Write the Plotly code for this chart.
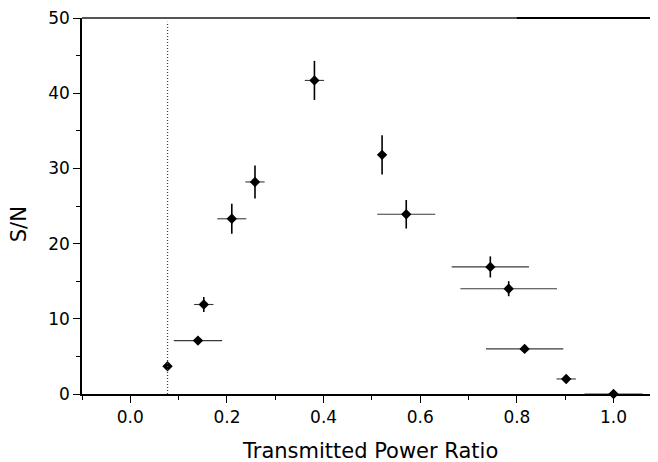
import plotly.graph_objects as go

# Values
power_ratio = [0.077, 0.14, 0.152, 0.21, 0.258, 0.381, 0.521, 0.571, 0.745, 0.783, 0.816, 0.902, 1.0]
sn_ratio = [3.7, 7.1, 11.9, 23.3, 28.2, 41.7, 31.8, 23.9, 16.9, 14.0, 6.0, 2.0, 0.0]
ratio_err = [0.0, 0.05, 0.02, 0.03, 0.02, 0.02, 0.0, 0.06, 0.08, 0.10, 0.08, 0.02, 0.06]
sn_err = [0.0, 0.0, 1.0, 2.0, 2.2, 2.6, 2.6, 1.9, 1.4, 1.0, 0.3, 0.4, 0.0]
cutoff_ratio = 0.077

X_RANGE = [-0.1, 1.092]
FONT = "DejaVu Sans, Arial, sans-serif"

fig = go.Figure()

fig.add_trace(go.Scatter(
    x=power_ratio,
    y=sn_ratio,
    mode="markers",
    marker=dict(symbol="diamond", size=8, color="black"),
    error_x=dict(type="data", array=ratio_err, visible=True,
                 color="#3a3a3a", thickness=1.1, width=0),
    error_y=dict(type="data", array=sn_err, visible=True,
                 color="black", thickness=1.6, width=0),
    cliponaxis=False,
    showlegend=False,
))

# dotted vertical marker line
fig.add_shape(type="line", x0=cutoff_ratio, x1=cutoff_ratio, y0=0, y1=49.5,
              xref="x", yref="y", line=dict(color="#444444", width=1.3, dash="1px,2px"))
# top frame line (grey, darker on the right)
dark_from = (0.8 - X_RANGE[0]) / (X_RANGE[1] - X_RANGE[0])
fig.add_shape(type="line", x0=0, x1=1, y0=1, y1=1, xref="paper", yref="paper",
              line=dict(color="#555555", width=2))
fig.add_shape(type="line", x0=dark_from, x1=1, y0=1, y1=1, xref="paper", yref="paper",
              line=dict(color="black", width=2))

fig.update_xaxes(
    range=X_RANGE,
    tickmode="linear", tick0=0, dtick=0.2, tickformat=".1f",
    ticks="outside", ticklen=7, tickwidth=1.2, tickcolor="black",
    minor=dict(tick0=0.1, dtick=0.2, ticks="outside", ticklen=4, tickcolor="black", showgrid=False),
    showline=True, linecolor="black", linewidth=1.5,
    showgrid=False, zeroline=False, ticklabeloverflow="allow",
    tickfont=dict(family=FONT, size=17, color="black"),
)
fig.update_yaxes(
    range=[0, 50],
    tickmode="linear", tick0=0, dtick=10,
    ticks="outside", ticklen=7, tickwidth=1.2, tickcolor="black",
    minor=dict(tick0=5, dtick=10, ticks="outside", ticklen=4, tickcolor="black", showgrid=False),
    showline=True, linecolor="black", linewidth=1.5,
    showgrid=False, zeroline=False, ticklabeloverflow="allow",
    tickfont=dict(family=FONT, size=17, color="black"),
)

# axis titles as annotations to place them like the reference
fig.add_annotation(text="Transmitted Power Ratio", xref="paper", yref="paper",
                   x=0.5, y=-0.151, xanchor="center", yanchor="middle", showarrow=False,
                   font=dict(family=FONT, size=21, color="black"))
fig.add_annotation(text="S/N", xref="paper", yref="paper", textangle=-90,
                   x=-0.109, y=0.452, xanchor="center", yanchor="middle", showarrow=False,
                   font=dict(family=FONT, size=21, color="black"))

# page body adds an 8px margin, so the figure is 8px smaller than the window
fig.update_layout(
    width=650, height=454,
    margin=dict(l=74, r=0, t=8, b=68),
    plot_bgcolor="white", paper_bgcolor="white",
)

fig.write_html("out.html")
